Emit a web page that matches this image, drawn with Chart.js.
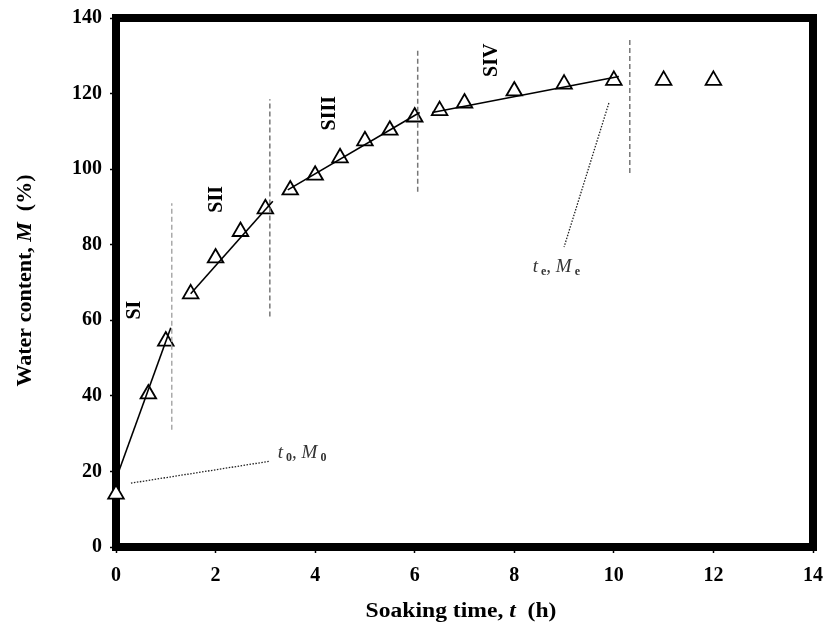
<!DOCTYPE html>
<html>
<head>
<meta charset="utf-8">
<script src="https://cdn.jsdelivr.net/npm/chart.js@4.4.1/dist/chart.umd.min.js"></script>
<style>
    body { margin: 0; background: #fff; }
    #soakChart { display: block; }
</style>
</head>
<body>
<canvas id="soakChart" width="829" height="634"></canvas>
<script>
// measured water uptake
const soakTime = [0, 0.65, 1, 1.5, 2, 2.5, 3, 3.5, 4, 4.5, 5, 5.5, 6, 6.5, 7, 8, 9, 10, 11, 12];
const waterContent = [14, 40.5, 54.5, 67, 76.5, 83.5, 89.5, 94.5, 98.4, 103, 107.5, 110.3, 113.8, 115.5, 117.5, 120.7, 122.5, 123.5, 123.5, 123.5];

// linear fit of each soaking stage
const stageNames = ['SI', 'SII', 'SIII', 'SIV'];
const fitStartT = [0, 1.5, 3.45, 6.35];
const fitEndT = [1.1, 3.15, 6.1, 10.1];
const fitStartM = [18, 67, 94.5, 115];
const fitEndM = [58, 91.5, 115, 124.5];

// stage boundaries
const boundaryT = [1.12, 3.09, 6.06, 10.32];
const boundaryLowM = [31, 61, 94, 99];
const boundaryHighM = [91, 118.5, 132, 135];

// where the stage names sit
const stageLabelT = [0.38, 2.03, 4.3, 7.55];
const stageLabelM = [62.7, 92, 114.8, 128.8];

// leader lines for the initial and equilibrium points
const leaderT = [[0.3, 3.09], [9.9, 9.0]];
const leaderM = [[16.9, 22.7], [117.5, 79.4]];

const serif = "'Liberation Serif', 'Times New Roman', serif";

const datasets = [];

for (let i = 0; i < stageNames.length; i++) {
    datasets.push({
        label: 'fit ' + stageNames[i],
        data: [{x: fitStartT[i], y: fitStartM[i]}, {x: fitEndT[i], y: fitEndM[i]}],
        showLine: true,
        borderColor: '#000',
        borderWidth: 1.6,
        pointRadius: 0
    });
}

for (let i = 0; i < boundaryT.length; i++) {
    datasets.push({
        label: 'boundary ' + (i + 1),
        data: [{x: boundaryT[i], y: boundaryLowM[i]}, {x: boundaryT[i], y: boundaryHighM[i]}],
        showLine: true,
        borderColor: i === 0 ? '#aaa' : '#777',
        borderWidth: 1.5,
        borderDash: [5, 3],
        pointRadius: 0
    });
}

for (let i = 0; i < leaderT.length; i++) {
    datasets.push({
        label: 'leader ' + (i + 1),
        data: [{x: leaderT[i][0], y: leaderM[i][0]}, {x: leaderT[i][1], y: leaderM[i][1]}],
        showLine: true,
        borderColor: '#222',
        borderWidth: 1.3,
        borderDash: [1.5, 1.5],
        pointRadius: 0
    });
}

// triangles go last so the fit lines are drawn over them
datasets.push({
    label: 'Water content',
    data: soakTime.map((t, i) => ({x: t, y: waterContent[i]})),
    showLine: false,
    pointStyle: 'triangle',
    pointRadius: 9,
    pointBackgroundColor: '#fff',
    pointBorderColor: '#000',
    pointBorderWidth: 1.8,
    clip: false
});

// draws a run of text pieces with their own fonts, left to right
function drawRuns(ctx, runs, x, y, align) {
    let total = 0;
    runs.forEach(r => { ctx.font = r.font; total += ctx.measureText(r.text).width; });
    let cx = align === 'center' ? x - total / 2 : x;
    runs.forEach(r => {
        ctx.font = r.font;
        ctx.fillText(r.text, cx, y + (r.dy || 0));
        cx += ctx.measureText(r.text).width;
    });
}

const framePlugin = {
    id: 'frame',
    beforeDatasetsDraw(chart) {
        const {ctx, chartArea: a} = chart;
        ctx.save();
        ctx.strokeStyle = '#000';
        ctx.lineWidth = 8;
        ctx.strokeRect(a.left, a.top, a.right - a.left, a.bottom - a.top);
        ctx.restore();
    },
    afterDatasetsDraw(chart) {
        const {ctx, chartArea: a} = chart;
        const xs = chart.scales.x, ys = chart.scales.y;
        ctx.save();
        ctx.fillStyle = '#000';
        ctx.textBaseline = 'alphabetic';

        // axis titles (a little wide, like the tick digits)
        const bold = 'bold 20px ' + serif;
        const boldIt = 'italic bold 20px ' + serif;
        ctx.save();
        ctx.translate(461, 617);
        ctx.scale(1.18, 1);
        drawRuns(ctx, [
            {text: 'Soaking time, ', font: bold},
            {text: 't', font: boldIt},
            {text: '  (h)', font: bold}
        ], 0, 0, 'center');
        ctx.restore();

        const boldY = 'bold 22px ' + serif;
        const boldItY = 'italic bold 22px ' + serif;
        ctx.save();
        ctx.translate(31, (a.top + a.bottom) / 2 - 2);
        ctx.rotate(-Math.PI / 2);
        drawRuns(ctx, [
            {text: 'Water content, ', font: boldY},
            {text: 'M', font: boldItY},
            {text: '  (%)', font: boldY}
        ], 0, 0, 'center');
        ctx.restore();

        // stage names, written upwards
        ctx.font = 'bold 20px ' + serif;
        ctx.textAlign = 'center';
        ctx.textBaseline = 'middle';
        stageNames.forEach((name, i) => {
            ctx.save();
            ctx.translate(xs.getPixelForValue(stageLabelT[i]), ys.getPixelForValue(stageLabelM[i]));
            ctx.rotate(-Math.PI / 2);
            ctx.fillText(name, 0, 0);
            ctx.restore();
        });

        // t0, M0 and te, Me
        ctx.textAlign = 'left';
        ctx.textBaseline = 'alphabetic';
        ctx.fillStyle = '#333';
        const it = 'italic 19px ' + serif;
        const sub = 'bold 12px ' + serif;
        drawRuns(ctx, [
            {text: 't', font: it},
            {text: ' 0', font: sub, dy: 3},
            {text: ', ', font: it},
            {text: 'M', font: it},
            {text: ' 0', font: sub, dy: 3}
        ], xs.getPixelForValue(3.25), ys.getPixelForValue(23.6), 'left');
        drawRuns(ctx, [
            {text: 't', font: it},
            {text: ' e', font: sub, dy: 3},
            {text: ', ', font: it},
            {text: 'M', font: it},
            {text: ' e', font: sub, dy: 3}
        ], xs.getPixelForValue(8.37), ys.getPixelForValue(72.8), 'left');
        ctx.restore();
    }
};

const tickFont = {family: serif, size: 20, weight: 'bold'};

new Chart(document.getElementById('soakChart'), {
    type: 'scatter',
    data: {datasets: datasets},
    options: {
        responsive: false,
        animation: false,
        layout: {autoPadding: false, padding: {top: 18, right: 16, left: 0, bottom: 0}},
        plugins: {legend: {display: false}, tooltip: {enabled: false}},
        scales: {
            x: {
                type: 'linear',
                min: 0,
                max: 14,
                ticks: {stepSize: 2, color: '#000', font: tickFont, padding: 11, maxRotation: 0},
                grid: {drawOnChartArea: false, drawTicks: true, tickLength: 6, tickColor: '#000', tickWidth: 1.5},
                border: {display: false},
                afterFit(scale) {
                    scale.height = 87;
                    scale.paddingLeft = 0;
                    scale.paddingRight = 0;
                }
            },
            y: {
                type: 'linear',
                min: 0,
                max: 140,
                ticks: {stepSize: 20, color: '#000', font: tickFont, padding: 8},
                grid: {drawOnChartArea: false, drawTicks: true, tickLength: 6, tickColor: '#000', tickWidth: 1.5},
                border: {display: false},
                afterFit(scale) {
                    scale.width = 116;
                    scale.paddingTop = 0;
                    scale.paddingBottom = 0;
                }
            }
        }
    },
    plugins: [framePlugin]
});
</script>
</body>
</html>
